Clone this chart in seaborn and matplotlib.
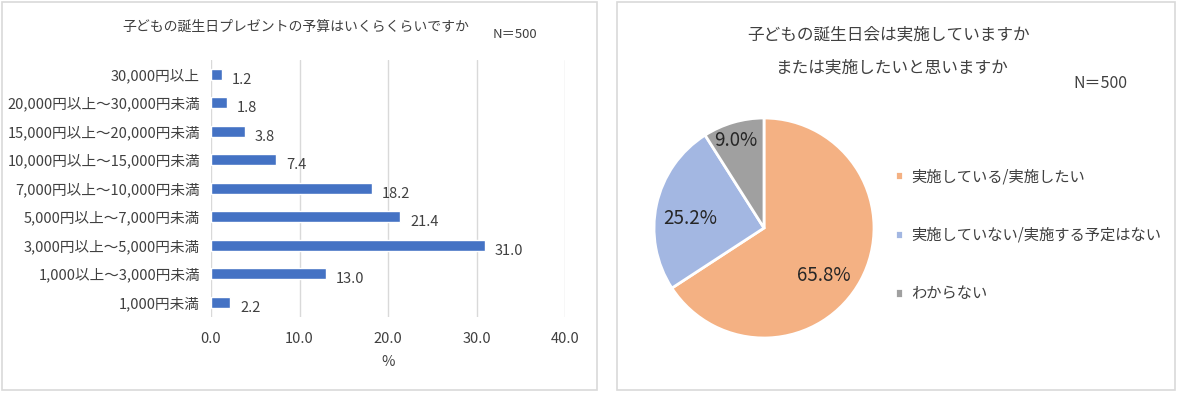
import matplotlib.pyplot as plt
import matplotlib.patches as mpatches
import seaborn as sns
import pandas as pd

# data
budget_labels = ["30,000円以上", "20,000円以上～30,000円未満", "15,000円以上～20,000円未満",
                 "10,000円以上～15,000円未満", "7,000円以上～10,000円未満", "5,000円以上～7,000円未満",
                 "3,000円以上～5,000円未満", "1,000以上～3,000円未満", "1,000円未満"]
budget_pct = [1.2, 1.8, 3.8, 7.4, 18.2, 21.4, 31.0, 13.0, 2.2]
x_ticks = [0, 10, 20, 30, 40]

party_labels = ["実施している/実施したい", "実施していない/実施する予定はない", "わからない"]
party_pct = [65.8, 25.2, 9.0]
party_colors = ["#F4B183", "#A3B7E2", "#A0A0A0"]

sns.set_style("white")
plt.rcParams['font.family'] = ['Noto Sans CJK JP', 'DejaVu Sans']

W, H = 1177, 393
fig = plt.figure(figsize=(W / 100, H / 100), dpi=100)


def box(x0, y0, x1, y1):
    # pixel box (top-left origin) -> figure coords
    return [x0 / W, 1 - y1 / H, (x1 - x0) / W, (y1 - y0) / H]


# panel frames
for x0, x1 in [(2, 597), (617, 1175)]:
    b = box(x0, 2, x1, 390)
    fig.add_artist(mpatches.Rectangle((b[0], b[1]), b[2], b[3], transform=fig.transFigure,
                                      fill=False, edgecolor="#D9D9D9", lw=1.2))

txt = "#404040"

# left: bar chart
ax = fig.add_axes(box(211, 60, 565, 316.5))
df = pd.DataFrame({"label": budget_labels, "pct": budget_pct})
sns.barplot(data=df, x="pct", y="label", color="#4472C4", width=0.4, saturation=1, ax=ax)
ax.set_xlim(0, 40)
ax.set_xticks(x_ticks)
ax.set_xticklabels([f"{v:.1f}" for v in x_ticks])
ax.grid(axis="x", color="#D9D9D9", lw=1)
ax.set_axisbelow(True)
for s in ax.spines.values():
    s.set_visible(False)
ax.tick_params(axis="y", length=0, labelsize=10.5, colors=txt, pad=8)
ax.tick_params(axis="x", length=0, labelsize=10.5, colors=txt, pad=11)
ax.set_ylabel("")
ax.set_xlabel("%", fontsize=10.5, color=txt, labelpad=7)
for i, v in enumerate(budget_pct):
    ax.annotate(f"{v:.1f}", (v, i), xytext=(7, -4), textcoords="offset points",
                va="center", ha="left", fontsize=10.5, color=txt)

fig.text(296 / W, 1 - 27 / H, "子どもの誕生日プレゼントの予算はいくらくらいですか",
         ha="center", va="center", fontsize=10, color=txt)
fig.text(515 / W, 1 - 34 / H, "N＝500", ha="center", va="center", fontsize=9.5, color=txt)

# right: pie chart
pax = fig.add_axes(box(654, 118, 874, 338))
wedges, texts, autotexts = pax.pie(party_pct, colors=party_colors, startangle=90, counterclock=False,
                                   autopct="%.1f%%", pctdistance=0.68,
                                   wedgeprops=dict(edgecolor="white", linewidth=2),
                                   textprops=dict(fontsize=13.5, color="#262626"))
pax.set_xlim(-1, 1)
pax.set_ylim(-1, 1)
pax.set_aspect("auto")
# Excel-like label spots
for t, pos in zip(autotexts, [(0.54, -0.43), (-0.67, 0.09), (-0.26, 0.8)]):
    t.set_position(pos)

fig.text(889 / W, 1 - 35 / H, "子どもの誕生日会は実施していますか",
         ha="center", va="center", fontsize=12, color=txt)
fig.text(892 / W, 1 - 68 / H, "または実施したいと思いますか",
         ha="center", va="center", fontsize=12, color=txt)
fig.text(1100 / W, 1 - 84 / H, "N＝500", ha="center", va="center", fontsize=11.5, color=txt)

fig.legend(wedges, party_labels, loc="upper left", bbox_to_anchor=(895 / W, 1 - 168 / H),
           frameon=False, fontsize=11, labelcolor=txt, handlelength=0.55, handleheight=0.55,
           handletextpad=0.5, labelspacing=2.73, borderaxespad=0, borderpad=0)

fig.savefig("out.png", dpi=100)
